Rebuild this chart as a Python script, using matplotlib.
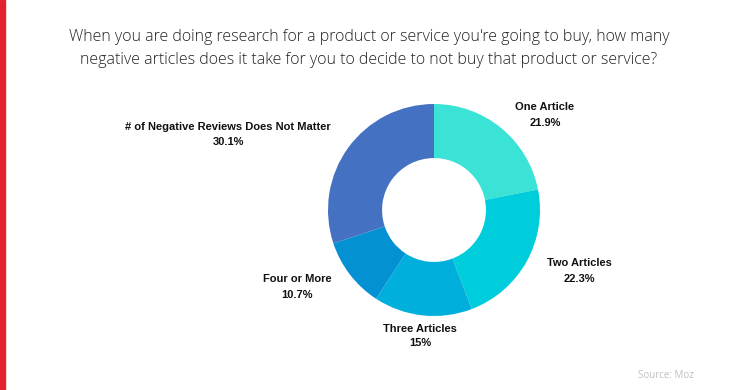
import matplotlib
matplotlib.use("Agg")
import matplotlib.pyplot as plt
from matplotlib.patches import Rectangle

categories = ["One Article", "Two Articles", "Three Articles", "Four or More",
              "# of Negative Reviews Does Not Matter"]
values = [21.9, 22.3, 15, 10.7, 30.1]
value_labels = ["21.9%", "22.3%", "15%", "10.7%", "30.1%"]
colors = ["#3be3d6", "#00cddc", "#00afdc", "#0391d4", "#4471c2"]

W, H = 738, 390
fig = plt.figure(figsize=(W / 100, H / 100), dpi=100)
fig.patch.set_facecolor("white")

# red bar on the left edge
fig.add_artist(Rectangle((0, 0), 5 / W, 1, transform=fig.transFigure,
                         color="#e3222f", zorder=5))

fig.text(369 / W, 1 - 37 / H,
         "When you are doing research for a product or service you're going to buy, how many",
         ha="center", va="center", fontsize=11.55, family="Open Sans",
         fontweight="light", color="#222222")
fig.text(369 / W, 1 - 60 / H,
         "negative articles does it take for you to decide to not buy that product or service?",
         ha="center", va="center", fontsize=11.55, family="Open Sans",
         fontweight="light", color="#222222")

cx, cy, R = 434, 210, 106
ax = fig.add_axes([(cx - R) / W, 1 - (cy + R) / H, 2 * R / W, 2 * R / H])
ax.pie(values, colors=colors, startangle=90, counterclock=False, radius=1,
       wedgeprops=dict(width=0.51, edgecolor="none"))
ax.set_xlim(-1, 1)
ax.set_ylim(-1, 1)
ax.set_aspect("equal")
ax.axis("off")

# label centres in pixels
label_px = [(545, 115), (579, 271), (420, 336), (297, 287), (228, 134)]
for (lx, ly), cat, vl in zip(label_px, categories, value_labels):
    fig.text(lx / W, 1 - (ly - 7.5) / H, cat, ha="center", va="center",
             fontsize=8, fontweight="bold", family="Liberation Sans", color="#111111")
    fig.text(lx / W, 1 - (ly + 7.5) / H, vl, ha="center", va="center",
             fontsize=8, fontweight="bold", family="Liberation Sans", color="#111111")

fig.text(666 / W, 1 - 376 / H, "Source: Moz", ha="center", va="center",
         fontsize=7, family="Open Sans", color="#c0c0c0")

fig.savefig("out.png", dpi=100)
